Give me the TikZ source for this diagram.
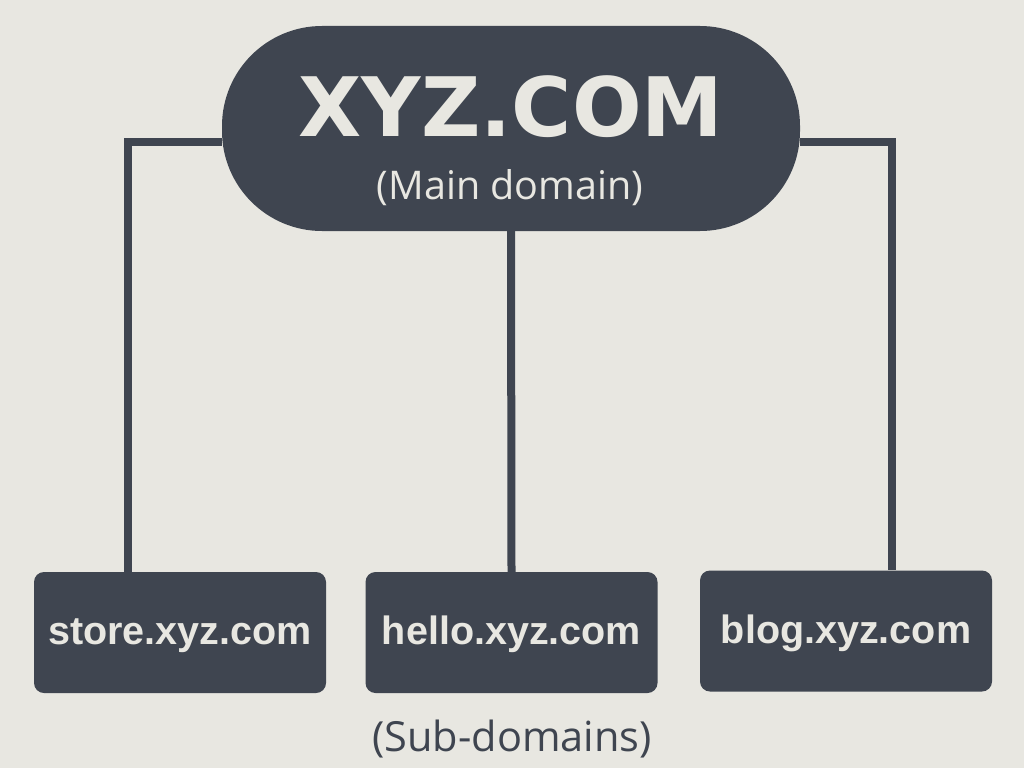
\documentclass[tikz,border=0pt]{standalone}
\usepackage{fontspec}
\setmainfont{Liberation Sans}
\newfontfamily\titlefont{DejaVu Sans}
\newfontfamily\notefont{Open Sans}
\usepackage{tikz}
\usetikzlibrary{positioning,backgrounds}
\definecolor{slate}{HTML}{3F4550}
\definecolor{paper}{HTML}{E8E7E1}
\tikzset{
  subbox/.style={fill=slate, rounded corners=10pt, minimum width=292pt, minimum height=121pt,
    text height=30pt, text depth=6pt,
    text=paper, font=\bfseries\fontsize{39.5}{39.5}\selectfont},
  note/.style={font=\notefont\fontsize{39.5}{39.5}\selectfont, anchor=base},
  link/.style={draw=slate, line width=8pt},
}

\begin{document}
\begin{tikzpicture}[x=1pt,y=-1pt]

% Main domain
\node[fill=slate, rounded corners=100pt, minimum width=578pt, minimum height=205pt] (main) at (511,128.5) {};
\node[text=paper, anchor=base, font=\titlefont\bfseries\fontsize{82}{82}\selectfont] (title) at (511,136) {XYZ.COM};
\node[note, text=paper] (mainnote) at (510,199) {(Main domain)};

% Sub-domains
\node[subbox] (store) at (180,632.5) {store.xyz.com};
\node[subbox] (hello) at (511.5,632.5) {hello.xyz.com};
\node[subbox] (blog) at (846,631) {blog.xyz.com};
\node[note, text=slate, font=\notefont\fontsize{41.5}{41.5}\selectfont] (subnote) at (512,751) {(Sub-domains)};

% Connectors
\begin{pgfonlayer}{background}
\fill[paper] (0,0) rectangle (1024,768);
\draw[link] ([yshift=-13.5pt]main.west) -| ([xshift=-52pt]store.north);
\draw[link] (main.south) -- (hello.north);
\draw[link] ([yshift=-13.5pt]main.east) -| ([xshift=46pt]blog.north);
\end{pgfonlayer}

\useasboundingbox (0,0) rectangle (1024,768);
\end{tikzpicture}
\end{document}
